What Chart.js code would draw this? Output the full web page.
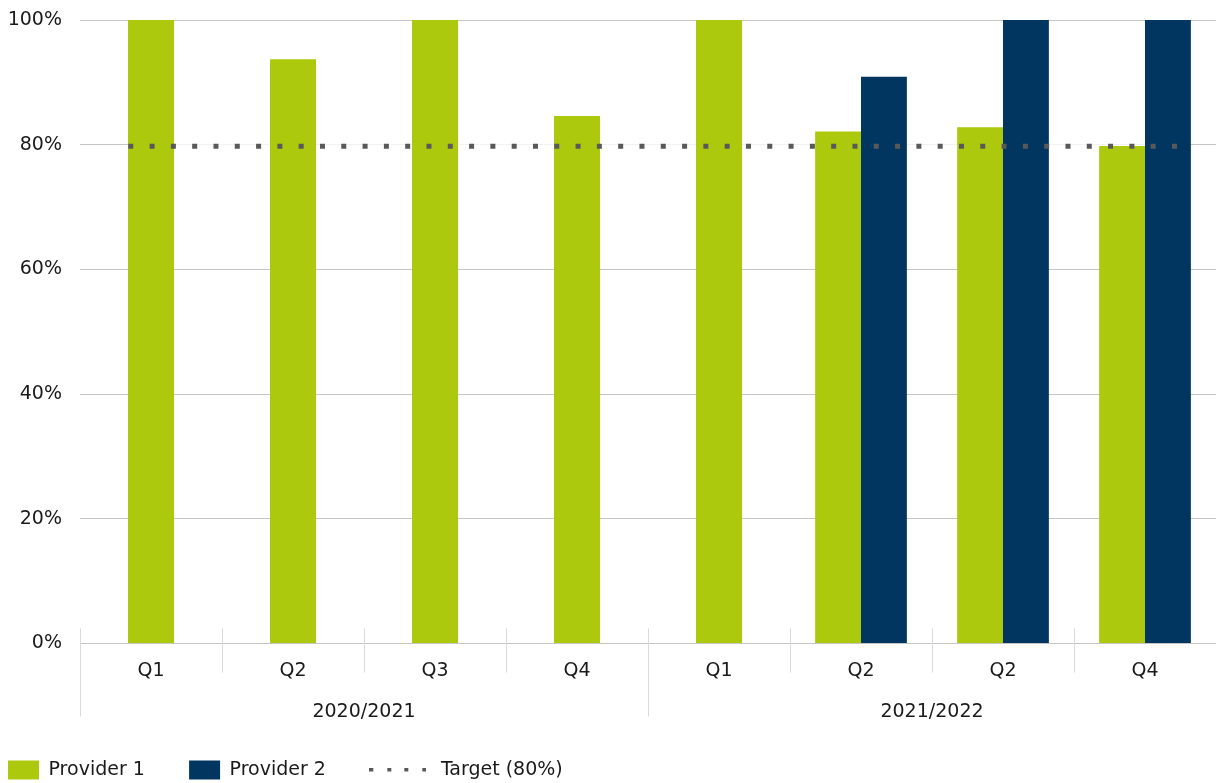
<!DOCTYPE html>
<html>
<head>
<meta charset="utf-8">
<script src="https://cdn.jsdelivr.net/npm/chart.js@4/dist/chart.umd.min.js"></script>
<style>
  html, body { margin: 0; padding: 0; background: #fff; }
  #wrap { width: 1216px; height: 783px; }
</style>
</head>
<body>
<div id="wrap"><canvas id="myChart"></canvas></div>
<script>
var quarters = ['Q1', 'Q2', 'Q3', 'Q4', 'Q1', 'Q2', 'Q2', 'Q4'];
var years = ['2020/2021', '2021/2022'];
var quartersPerYear = 4;
var provider1 = [100, 93.7, 100, 84.6, 100, 82.1, 82.8, 79.8];
var provider2 = [null, null, null, null, null, 90.9, 100, 100];
var target = 80;
var targetLabel = 'Target (80%)';
// where the target line starts and ends, in category index units
var targetRange = [-0.16, 7.3];
var yTicks = [0, 20, 40, 60, 80, 100];

var green = '#adc90e';
var navy = '#003660';
var dotGrey = '#595959';
var textColor = '#1a1a1a';

Chart.defaults.font.family = '"DejaVu Sans", sans-serif';
Chart.defaults.font.size = 19;
Chart.defaults.color = textColor;

// light separators under the axis, like the source chart
var separators = {
    id: 'separators',
    afterDraw: function (chart) {
        var xs = chart.scales.x;
        var bottom = chart.chartArea.bottom;
        var ctx = chart.ctx;
        ctx.save();
        ctx.strokeStyle = '#d9d9d9';
        ctx.lineWidth = 1;
        for (var i = 0; i <= quarters.length; i++) {
            var px = Math.round(xs.getPixelForValue(i - 0.5)) + 0.5;
            var end = (i % quartersPerYear === 0) ? bottom + 73 : bottom + 29;
            ctx.beginPath();
            ctx.moveTo(px, bottom - 15);
            ctx.lineTo(px, end);
            ctx.stroke();
        }
        ctx.restore();
    }
};

function targetPath(chart) {
    var xs = chart.scales.x;
    var ys = chart.scales.y;
    var y = ys.getPixelForValue(target) + 1.5;
    chart.ctx.beginPath();
    chart.ctx.moveTo(xs.getPixelForValue(targetRange[0]), y);
    chart.ctx.lineTo(xs.getPixelForValue(targetRange[1]), y);
}

// dotted target line: a white strip hides the gridline under it,
// then the dots go over the bars
var targetLine = {
    id: 'targetLine',
    beforeDatasetsDraw: function (chart) {
        var ctx = chart.ctx;
        ctx.save();
        ctx.strokeStyle = '#ffffff';
        ctx.lineWidth = 4;
        targetPath(chart);
        ctx.stroke();
        ctx.restore();
    },
    afterDatasetsDraw: function (chart) {
        var ctx = chart.ctx;
        ctx.save();
        ctx.lineCap = 'butt';
        ctx.strokeStyle = dotGrey;
        ctx.lineWidth = 5;
        ctx.setLineDash([5, 16.3]);
        targetPath(chart);
        ctx.stroke();
        ctx.restore();
    }
};

// small dotted sample for the legend
var dotSample = document.createElement('canvas');
dotSample.width = 57;
dotSample.height = 5;
(function () {
    var c = dotSample.getContext('2d');
    c.fillStyle = dotGrey;
    for (var i = 0; i < 4; i++) {
        c.fillRect(Math.round(i * 17.7), 0, 4, 4);
    }
})();

var ctx = document.getElementById('myChart').getContext('2d');
var myChart = new Chart(ctx, {
    type: 'bar',
    data: {
        labels: quarters,
        datasets: [{
            label: 'Provider 1',
            data: provider1,
            backgroundColor: green,
            skipNull: true,
            maxBarThickness: 46,
            categoryPercentage: 0.646,
            barPercentage: 1
        },
        {
            label: 'Provider 2',
            data: provider2,
            backgroundColor: navy,
            skipNull: true,
            maxBarThickness: 46,
            categoryPercentage: 0.646,
            barPercentage: 1
        }]
    },
    options: {
        responsive: true,
        maintainAspectRatio: false,
        animation: false,
        layout: {
            padding: { top: 20, right: 0, bottom: -6.5, left: 0 }
        },
        scales: {
            x: {
                offset: true,
                grid: { display: false, drawTicks: false },
                border: { display: false },
                ticks: { padding: 16, maxRotation: 0, autoSkip: false, color: textColor },
                afterFit: function (scale) { scale.height = 37; }
            },
            x2: {
                type: 'category',
                position: 'bottom',
                labels: years,
                offset: true,
                weight: 1,
                grid: { display: false, drawTicks: false },
                border: { display: false },
                ticks: { padding: 20, maxRotation: 0, color: textColor },
                afterFit: function (scale) { scale.height = 72; }
            },
            y: {
                min: yTicks[0],
                max: yTicks[yTicks.length - 1],
                grid: { color: '#c6c6c6', drawTicks: false },
                border: { display: false },
                afterBuildTicks: function (scale) {
                    scale.ticks = yTicks.map(function (v) { return { value: v }; });
                },
                afterFit: function (scale) {
                    scale.width = 80;
                    scale.paddingTop = 0;
                    scale.paddingBottom = 0;
                },
                ticks: {
                    padding: 18,
                    color: textColor,
                    callback: function (v) { return v + '%'; }
                }
            }
        },
        plugins: {
            legend: {
                position: 'bottom',
                align: 'start',
                onClick: function () {},
                labels: {
                    usePointStyle: true,
                    pointStyleWidth: 31,
                    padding: 8,
                    color: textColor,
                    generateLabels: function (chart) {
                        var ds = chart.data.datasets;
                        var items = ds.map(function (d, i) {
                            return {
                                // trailing spaces widen the gap to the next item
                                text: d.label + (i === 0 ? '      ' : '        '),
                                fillStyle: d.backgroundColor,
                                strokeStyle: d.backgroundColor,
                                lineWidth: 0,
                                pointStyle: 'rect',
                                fontColor: textColor,
                                hidden: false,
                                datasetIndex: i
                            };
                        });
                        items.push({
                            text: '   ' + targetLabel,
                            fillStyle: dotGrey,
                            strokeStyle: dotGrey,
                            lineWidth: 0,
                            pointStyle: dotSample,
                            fontColor: textColor,
                            hidden: false
                        });
                        return items;
                    }
                }
            },
            tooltip: { enabled: false }
        }
    },
    plugins: [separators, targetLine]
});
</script>
</body>
</html>
